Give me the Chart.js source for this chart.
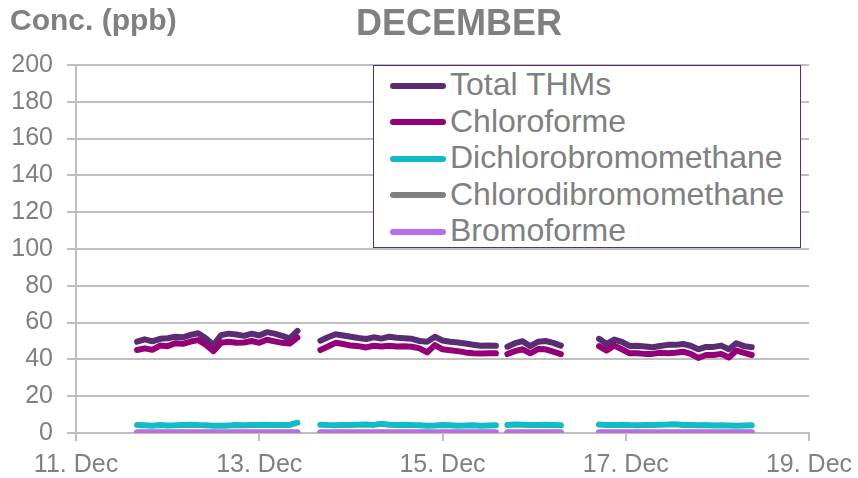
<!DOCTYPE html>
<html>
<head>
<meta charset="utf-8">
<script src="https://cdn.jsdelivr.net/npm/chart.js@4"></script>
<style>
  html, body { margin: 0; padding: 0; background: #ffffff; }
  #wrap { position: relative; width: 858px; height: 478px; font-family: "Liberation Sans", Arial, sans-serif; }
  #c { position: absolute; left: 0; top: 0; }
  #ylab { position: absolute; left: 10px; top: 3px; font-size: 30px; font-weight: bold; color: #808080; white-space: nowrap; }
  #title { position: absolute; left: 0; width: 918px; top: 2px; text-align: center; font-size: 36px; font-weight: bold; color: #808080; white-space: nowrap; }
  #legend { position: absolute; left: 373px; top: 65px; width: 426px; height: 181px; border: 1.6px solid #5a2d72; background: #fff; }
  .row { position: absolute; left: 0; height: 36px; }
  .sw { position: absolute; left: 16px; top: 15.5px; width: 56px; height: 6px; border-radius: 3px; }
  .tx { position: absolute; left: 76px; top: -1px; font-size: 32px; color: #808080; white-space: nowrap; line-height: 36px; }
</style>
</head>
<body>
<div id="wrap">
  <canvas id="c" width="858" height="478"></canvas>
  <div id="ylab">Conc. (ppb)</div>
  <div id="title">DECEMBER</div>
  <div id="legend"></div>
</div>
<script>
// ---- Data (days of December; null = gap in record) ----
const times = [
  11.667, 11.750, 11.833, 11.917, 12.000, 12.083, 12.167, 12.250, 12.333, 12.417, 12.500, 12.583, 12.667, 12.750, 12.833, 12.917, 13.000, 13.083, 13.167, 13.250, 13.333, 13.417,
  13.540,
  13.667, 13.750, 13.833, 13.917, 14.000, 14.083, 14.167, 14.250, 14.333, 14.417, 14.500, 14.583, 14.667, 14.750, 14.833, 14.917, 15.000, 15.083, 15.167, 15.250, 15.333, 15.417, 15.500, 15.583,
  15.650,
  15.708, 15.792, 15.875, 15.958, 16.042, 16.125, 16.208, 16.292,
  16.500,
  16.708, 16.792, 16.875, 16.958, 17.042, 17.125, 17.208, 17.292, 17.375, 17.458, 17.542, 17.625, 17.708, 17.792, 17.875, 17.958, 18.042, 18.125, 18.208, 18.292, 18.375
];

const totalTHMs = [
  49.6, 50.9, 49.8, 51.2, 51.5, 52.3, 52.0, 53.3, 54.2, 51.5, 47.8, 53.2, 54.0, 53.5, 52.8, 54.0, 53.0, 54.8, 54.0, 52.8, 51.4, 55.5,
  null,
  50.2, 52.0, 53.7, 53.0, 52.3, 51.6, 51.1, 52.0, 51.3, 52.3, 51.8, 51.5, 51.2, 50.0, 49.6, 52.3, 50.3, 49.6, 49.2, 48.6, 48.0, 47.4, 47.6, 47.4,
  null,
  46.9, 48.8, 49.9, 47.2, 49.6, 50.0, 49.0, 47.5,
  null,
  51.2, 48.4, 50.8, 49.5, 47.3, 47.4, 47.0, 46.6, 47.3, 47.9, 47.9, 48.4, 47.4, 45.5, 46.8, 46.8, 47.5, 45.5, 48.8, 47.2, 46.6
];

const chloroforme = [
  45.1, 46.0, 45.2, 47.5, 47.2, 48.8, 48.5, 49.7, 50.5, 48.0, 44.5, 49.0, 49.6, 49.0, 49.2, 50.0, 49.0, 50.7, 49.8, 49.0, 48.6, 51.8,
  null,
  45.1, 47.0, 49.0, 48.4, 47.5, 47.2, 46.5, 47.4, 47.0, 47.4, 47.0, 47.2, 46.9, 46.0, 43.8, 47.8, 45.5, 45.0, 44.5, 43.8, 43.3, 43.2, 43.4, 43.3,
  null,
  42.9, 44.5, 45.5, 43.3, 45.6, 45.5, 44.2, 42.9,
  null,
  47.2, 44.8, 47.5, 45.5, 43.3, 43.3, 43.0, 43.0, 43.6, 43.4, 43.6, 44.2, 43.0, 40.8, 42.4, 42.4, 43.0, 41.0, 44.8, 43.5, 42.4
];

const dichlorobromomethane = [
  4.4, 4.2, 4.0, 4.3, 4.1, 4.2, 4.4, 4.5, 4.3, 4.2, 4.0, 3.9, 4.1, 4.3, 4.2, 4.4, 4.3, 4.5, 4.4, 4.3, 4.4, 5.6,
  null,
  4.5, 4.3, 4.2, 4.4, 4.3, 4.5, 4.6, 4.4, 5.0, 4.5, 4.4, 4.5, 4.3, 4.2, 4.0, 4.1, 4.3, 4.2, 4.0, 4.1, 4.2, 4.0, 4.1, 4.2,
  null,
  4.4, 4.6, 4.5, 4.4, 4.3, 4.5, 4.4, 4.2,
  null,
  4.6, 4.4, 4.3, 4.5, 4.3, 4.2, 4.4, 4.3, 4.5, 4.6, 4.8, 4.4, 4.3, 4.2, 4.3, 4.1, 4.2, 4.1, 4.0, 4.1, 4.2
];

const chlorodibromomethane = [
  0.3, 0.3, 0.3, 0.3, 0.3, 0.3, 0.3, 0.3, 0.3, 0.3, 0.3, 0.3, 0.3, 0.3, 0.3, 0.3, 0.3, 0.3, 0.3, 0.3, 0.3, 0.3,
  null,
  0.3, 0.3, 0.3, 0.3, 0.3, 0.3, 0.3, 0.3, 0.3, 0.3, 0.3, 0.3, 0.3, 0.3, 0.3, 0.3, 0.3, 0.3, 0.3, 0.3, 0.3, 0.3, 0.3, 0.3,
  null,
  0.3, 0.3, 0.3, 0.3, 0.3, 0.3, 0.3, 0.3,
  null,
  0.3, 0.3, 0.3, 0.3, 0.3, 0.3, 0.3, 0.3, 0.3, 0.3, 0.3, 0.3, 0.3, 0.3, 0.3, 0.3, 0.3, 0.3, 0.3, 0.3, 0.3
];

const bromoforme = [
  0.3, 0.3, 0.3, 0.3, 0.3, 0.3, 0.3, 0.3, 0.3, 0.3, 0.3, 0.3, 0.3, 0.3, 0.3, 0.3, 0.3, 0.3, 0.3, 0.3, 0.3, 0.3,
  null,
  0.3, 0.3, 0.3, 0.3, 0.3, 0.3, 0.3, 0.3, 0.3, 0.3, 0.3, 0.3, 0.3, 0.3, 0.3, 0.3, 0.3, 0.3, 0.3, 0.3, 0.3, 0.3, 0.3, 0.3,
  null,
  0.3, 0.3, 0.3, 0.3, 0.3, 0.3, 0.3, 0.3,
  null,
  0.3, 0.3, 0.3, 0.3, 0.3, 0.3, 0.3, 0.3, 0.3, 0.3, 0.3, 0.3, 0.3, 0.3, 0.3, 0.3, 0.3, 0.3, 0.3, 0.3, 0.3
];

const seriesNames = ["Total THMs", "Chloroforme", "Dichlorobromomethane", "Chlorodibromomethane", "Bromoforme"];
const seriesValues = [totalTHMs, chloroforme, dichlorobromomethane, chlorodibromomethane, bromoforme];
const seriesColors = ["#5a2d72", "#930078", "#12bcc6", "#808080", "#b96de6"];
const drawOrder = [4, 3, 2, 1, 0]; // Excel-like: later series drawn on top
const xTickDays = [11, 13, 15, 17, 19];
const yTicks = [0, 20, 40, 60, 80, 100, 120, 140, 160, 180, 200];

// ---- Build chart ----
const datasets = seriesNames.map((name, i) => ({
  label: name,
  data: times.map((t, k) => ({ x: t, y: seriesValues[i][k] })),
  borderColor: seriesColors[i],
  backgroundColor: seriesColors[i],
  borderWidth: 6,
  borderCapStyle: 'round',
  borderJoinStyle: 'round',
  pointRadius: 0,
  tension: 0,
  spanGaps: false,
  order: drawOrder[i]
}));

const gray = '#808080';
const tickFont = { family: '"Liberation Sans", Arial, sans-serif', size: 25 };

new Chart(document.getElementById('c'), {
  type: 'line',
  data: { datasets },
  options: {
    responsive: false,
    animation: false,
    layout: { padding: { top: 65, right: 49, left: 0, bottom: 0 } },
    plugins: { legend: { display: false }, title: { display: false }, tooltip: { enabled: false } },
    scales: {
      x: {
        type: 'linear',
        min: xTickDays[0],
        max: xTickDays[xTickDays.length - 1],
        afterFit: s => { s.height = 45; s.paddingLeft = 0; s.paddingRight = 0; },
        afterBuildTicks: s => { s.ticks = xTickDays.map(v => ({ value: v })); },
        ticks: { color: gray, font: tickFont, padding: 9, maxRotation: 0, autoSkip: false,
                 callback: v => v + '. Dec' },
        grid: { display: true, drawOnChartArea: false, drawTicks: true, tickLength: 8, color: '#bfbfbf', lineWidth: 2 },
        border: { display: true, color: '#bfbfbf', width: 2 }
      },
      y: {
        min: 0, max: 200,
        afterFit: s => { s.width = 76; s.paddingTop = 0; s.paddingBottom = 0; },
        afterBuildTicks: s => { s.ticks = yTicks.map(v => ({ value: v })); },
        ticks: { color: gray, font: tickFont, padding: 14 },
        grid: { color: '#bfbfbf', lineWidth: 2, drawTicks: true, tickLength: 9 },
        border: { display: true, color: '#bfbfbf', width: 2 }
      }
    }
  }
});

// ---- Legend (HTML) ----
const leg = document.getElementById('legend');
seriesNames.forEach((name, i) => {
  const row = leg.appendChild(document.createElement('div'));
  row.className = 'row';
  row.style.top = (1 + i * 36.6) + 'px';
  const sw = document.createElement('div');
  sw.className = 'sw';
  sw.style.background = seriesColors[i];
  const tx = document.createElement('div');
  tx.className = 'tx';
  tx.textContent = name;
  row.appendChild(sw);
  row.appendChild(tx);
});
</script>
</body>
</html>
